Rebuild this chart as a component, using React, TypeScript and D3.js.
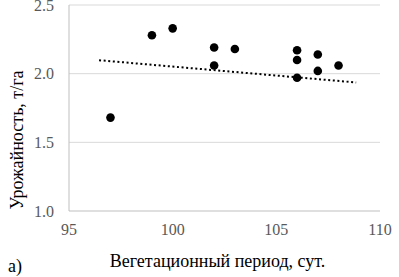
import React from "react";
import * as d3 from "d3";

const days = [97, 99, 100, 102, 102, 103, 106, 106, 106, 107, 107, 108];
const yields = [1.68, 2.28, 2.33, 2.19, 2.06, 2.18, 2.17, 2.1, 1.97, 2.14, 2.02, 2.06];
const trendX = [96.45, 108.85];
const trendY = [2.098, 1.936];
const xTicks = [95, 100, 105, 110];
const yTicks = [1.0, 1.5, 2.0, 2.5];

const W = 399;
const H = 277;
const serif = "'Liberation Serif', 'Times New Roman', serif";

export default function App() {
  const x = d3.scaleLinear().domain([95, 110]).range([69, 380]);
  const y = d3.scaleLinear().domain([1.0, 2.5]).range([211, 5]);
  const trendLine = d3
    .line<number>()
    .x((d) => x(d))
    .y((_, i) => y(trendY[i]));

  return (
    <svg
      width={W}
      height={H}
      style={{ position: "absolute", left: 0, top: 0, background: "#fff" }}
    >
      {yTicks.map((t) => (
        <g key={t}>
          <line
            x1={x(95)}
            x2={x(110)}
            y1={y(t)}
            y2={y(t)}
            stroke={t === 1.0 ? "#bfbfbf" : "#d9d9d9"}
            strokeWidth={1}
          />
          <text
            x={54}
            y={y(t)}
            dy="0.35em"
            textAnchor="end"
            fontFamily={serif}
            fontSize={16}
            fill="#595959"
          >
            {d3.format(".1f")(t)}
          </text>
        </g>
      ))}
      <line x1={x(95)} x2={x(95)} y1={y(2.5)} y2={y(1.0)} stroke="#bfbfbf" strokeWidth={1} />
      {xTicks.map((t) => (
        <text
          key={t}
          x={x(t)}
          y={229}
          dy="0.35em"
          textAnchor="middle"
          fontFamily={serif}
          fontSize={16}
          fill="#595959"
        >
          {t}
        </text>
      ))}
      <path
        d={trendLine(trendX) || ""}
        fill="none"
        stroke="#000"
        strokeWidth={2}
        strokeDasharray="2 2.6"
      />
      {days.map((d, i) => (
        <circle key={i} cx={x(d)} cy={y(yields[i])} r={4.3} fill="#000" />
      ))}
      <text
        transform="translate(23, 140) rotate(-90)"
        textAnchor="middle"
        fontFamily={serif}
        fontSize={18}
        fill="#000"
      >
        Урожайность, т/га
      </text>
      <text
        x={217.5}
        y={267}
        textAnchor="middle"
        fontFamily={serif}
        fontSize={18}
        fill="#000"
      >
        Вегетационный период, сут.
      </text>
      <text x={8} y={272} fontFamily={serif} fontSize={18} fill="#000">
        а)
      </text>
    </svg>
  );
}
